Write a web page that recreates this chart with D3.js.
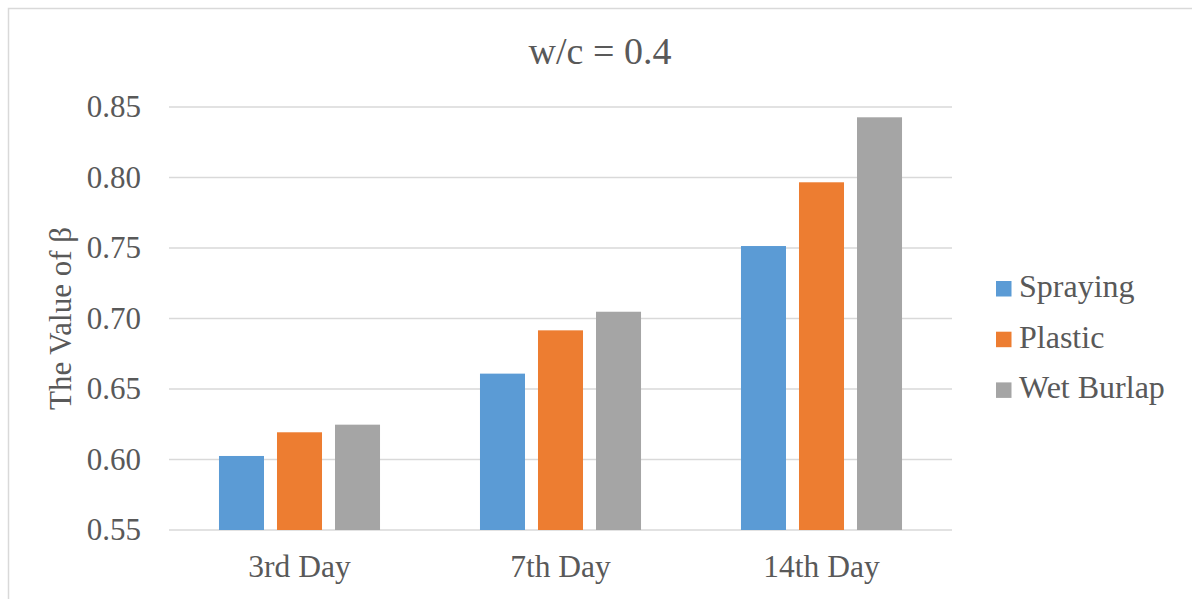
<!DOCTYPE html>
<html>
<head>
<meta charset="utf-8">
<script src="https://cdn.jsdelivr.net/npm/d3@7"></script>
<style>
  html, body { margin: 0; padding: 0; background: #fff; }
  svg { display: block; }
  text { font-family: "Liberation Serif", "Times New Roman", serif; fill: #595959; }
</style>
</head>
<body>
<div id="chart"></div>
<script>
var days = ["3rd Day", "7th Day", "14th Day"];
var series = ["Spraying", "Plastic", "Wet Burlap"];
var colors = ["#5b9bd5", "#ed7d31", "#a5a5a5"];
var spraying = [0.6025, 0.6609, 0.7514];
var plastic = [0.6193, 0.6916, 0.7966];
var wetBurlap = [0.6247, 0.7048, 0.8427];
var yTicks = [0.55, 0.60, 0.65, 0.70, 0.75, 0.80, 0.85];
var title = "w/c = 0.4";
var yLabel = "The Value of β";

var values = [spraying, plastic, wetBurlap];

var width = 1192,
    height = 599;

var plotLeft = 169, plotRight = 952, plotTop = 107, plotBottom = 530;

var svg = d3.select("#chart").append("svg")
    .attr("width", width)
    .attr("height", height);

// frame (only top and left edges show)
svg.append("rect")
    .attr("x", 8.5).attr("y", 8.5)
    .attr("width", width + 20).attr("height", height + 20)
    .attr("fill", "none")
    .attr("stroke", "#d9d9d9")
    .attr("stroke-width", 1.5);

var y = d3.scaleLinear().domain([0.55, 0.85]).range([plotBottom, plotTop]);

var x0 = d3.scaleBand().domain(days).range([plotLeft, plotRight])
    .paddingInner(0.383).paddingOuter(0.1915);

var x1 = d3.scaleBand().domain(series).range([0, x0.bandwidth()])
    .paddingInner(0.224);

// gridlines
svg.append("g").selectAll("line")
    .data(yTicks)
  .enter().append("line")
    .attr("x1", plotLeft).attr("x2", plotRight)
    .attr("y1", function(d) { return y(d); })
    .attr("y2", function(d) { return y(d); })
    .attr("stroke", "#d9d9d9")
    .attr("stroke-width", 1.5);

// y tick labels
svg.append("g").selectAll("text")
    .data(yTicks)
  .enter().append("text")
    .attr("x", 141)
    .attr("y", function(d) { return y(d) + 10; })
    .attr("text-anchor", "end")
    .style("font-size", "31px")
    .text(function(d) { return d3.format(".2f")(d); });

// bars
var groups = svg.append("g").selectAll("g")
    .data(series)
  .enter().append("g")
    .attr("fill", function(d, i) { return colors[i]; });

groups.selectAll("rect")
    .data(function(s, i) {
      return days.map(function(day, j) { return { s: s, day: day, v: values[i][j] }; });
    })
  .enter().append("rect")
    .attr("x", function(d) { return x0(d.day) + x1(d.s); })
    .attr("y", function(d) { return y(d.v); })
    .attr("width", x1.bandwidth())
    .attr("height", function(d) { return y(0.55) - y(d.v); });

// x labels
svg.append("g").selectAll("text")
    .data(days)
  .enter().append("text")
    .attr("x", function(d) { return x0(d) + x0.bandwidth() / 2; })
    .attr("y", 577)
    .attr("text-anchor", "middle")
    .style("font-size", "31.5px")
    .text(function(d) { return d; });

// title
svg.append("text")
    .attr("x", 600)
    .attr("y", 64)
    .attr("text-anchor", "middle")
    .style("font-size", "38px")
    .text(title);

// y axis title
svg.append("text")
    .attr("transform", "translate(71," + ((plotTop + plotBottom) / 2) + ") rotate(-90)")
    .attr("text-anchor", "middle")
    .style("font-size", "31px")
    .text(yLabel);

// legend
var legend = svg.append("g").selectAll("g")
    .data(series)
  .enter().append("g")
    .attr("transform", function(d, i) { return "translate(996," + (281 + i * 50.7) + ")"; });

legend.append("rect")
    .attr("width", 15.5).attr("height", 15.5)
    .attr("fill", function(d, i) { return colors[i]; });

legend.append("text")
    .attr("x", 23)
    .attr("y", 16)
    .style("font-size", "32px")
    .text(function(d) { return d; });
</script>
</body>
</html>
